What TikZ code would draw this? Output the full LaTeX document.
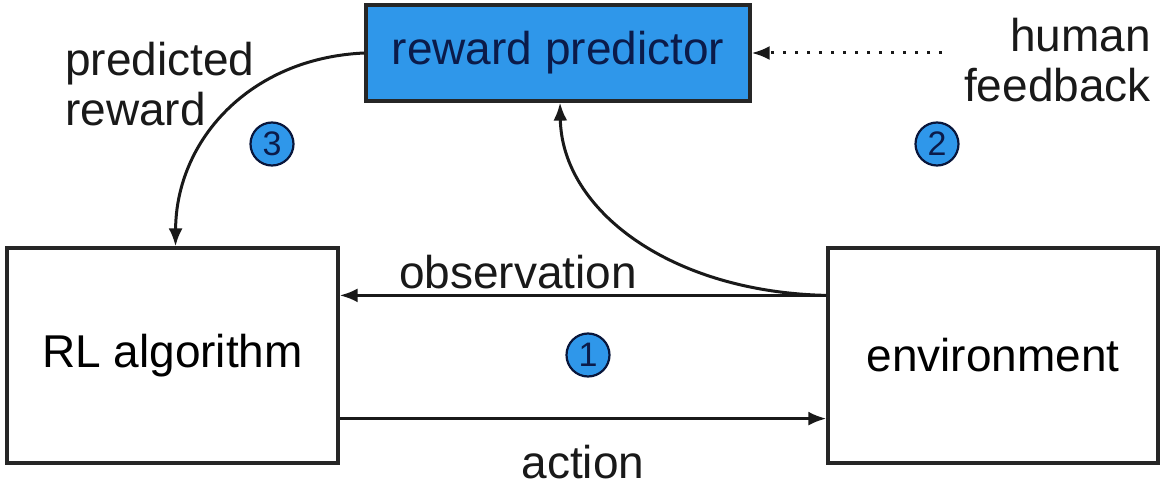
\documentclass[tikz,border=0pt]{standalone}
\usepackage{fontspec}
\setmainfont{Liberation Sans}
\usetikzlibrary{arrows.meta,calc}
\definecolor{rpblue}{HTML}{2F97EA}
\definecolor{navy}{HTML}{0B1B4A}
\begin{document}
\begin{tikzpicture}[x=1pt,y=-1pt,
  box/.style={draw=black!85,line width=3.2pt,rectangle,inner sep=0pt,font=\fontsize{46}{50}\selectfont},
  conn/.style={line width=3pt,draw=black!90,-{Latex[length=18pt,width=14pt]}},
  numc/.style={circle,draw=navy!80!black,line width=2.2pt,fill=rpblue,minimum size=43pt,inner sep=0pt,text=navy,font=\fontsize{34}{34}\selectfont},
  lbl/.style={inner sep=0pt,font=\fontsize{46}{50}\selectfont,text=black!90}]
\useasboundingbox (0,0) rectangle (1160,486);
\fill[white] (0,0) rectangle (1160,486);
\node[box,fill=rpblue,text=navy,minimum width=384pt,minimum height=96pt] (rp) at (558,53) {reward predictor};
\node[box,fill=white,minimum width=331pt,minimum height=215pt] (rl) at (172.5,355.5) {RL algorithm};
\node[box,fill=white,minimum width=330pt,minimum height=215pt] (env) at (993,355.5) {environment};
\coordinate (obsE) at ([yshift=-49pt]env.north west);
\coordinate (actS) at ([yshift=46pt]rl.south east);
\coordinate (hf) at (942,53);
\draw[conn] (obsE) -- (obsE -| rl.east);
\draw[conn] (actS) -- (actS -| env.west);
\draw[conn] (obsE) .. controls (670,292) and (562,210) .. ([xshift=2pt]rp.south);
\draw[conn] (rp.west) .. controls (250,58) and (176,140) .. ([xshift=3pt]rl.north);
\draw[line width=3pt,draw=black!90,dash pattern=on 3pt off 9pt,-{Latex[length=18pt,width=14pt]}] (hf) -- (rp.east);
\node[lbl,align=left,anchor=west] (pr) at (65,84) {predicted\\reward};
\node[lbl,align=right,anchor=east] (hfb) at (1151,60) {human\\feedback};
\node[lbl] (obs) at (518,272) {observation};
\node[lbl] (act) at (583,462) {action};
\node[numc] (n3) at (272,144) {3};
\node[numc] (n2) at (937,144) {2};
\node[numc] (n1) at (588,355) {1};
\end{tikzpicture}
\end{document}
